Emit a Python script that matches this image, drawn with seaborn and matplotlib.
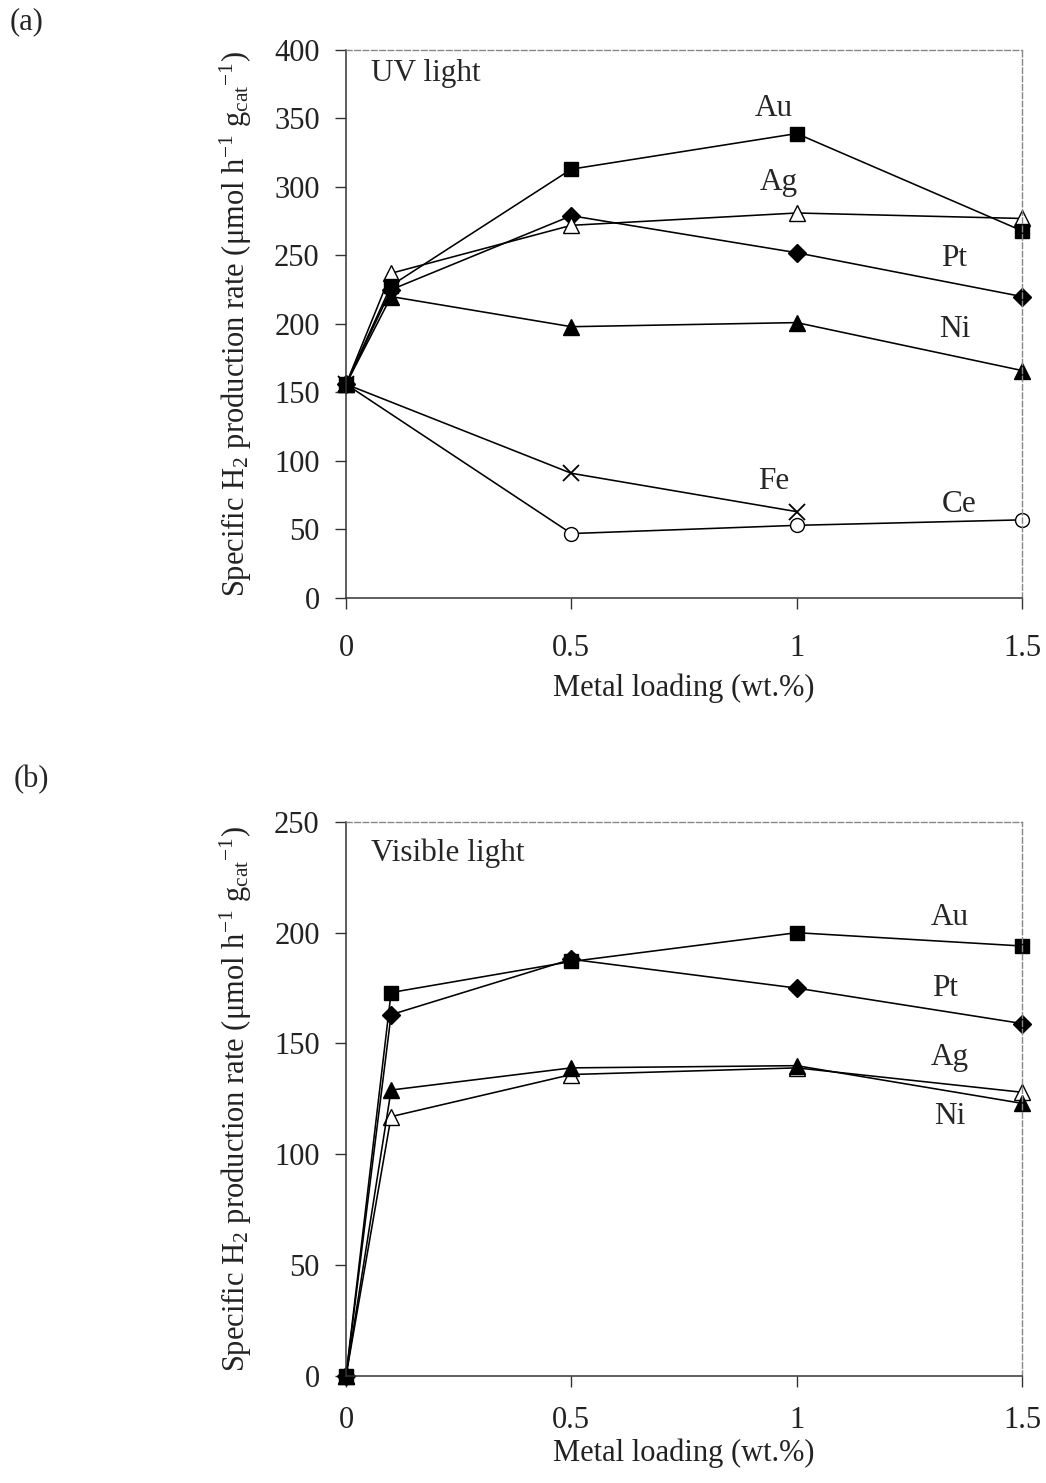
import matplotlib
matplotlib.use('Agg')
import matplotlib.pyplot as plt
import seaborn as sns
import pandas as pd

# ── Data ─────────────────────────────────────────────────────
loading = [0, 0.1, 0.5, 1, 1.5]

uv_au = [156, 228, 313, 339, 268]
uv_ag = [156, 237, 272, 281, 277]
uv_pt = [156, 225, 279, 252, 220]
uv_ni = [156, 220, 198, 201, 166]
fe_loading = [0, 0.5, 1]
uv_fe = [156, 91, 63]
ce_loading = [0, 0.5, 1, 1.5]
uv_ce = [156, 47, 53, 57]

vis_au = [0, 173, 187, 200, 194]
vis_pt = [0, 163, 188, 175, 159]
vis_ag = [0, 117, 136, 139, 128]
vis_ni = [0, 129, 139, 140, 123]

uv_ticks = [0, 50, 100, 150, 200, 250, 300, 350, 400]
vis_ticks = [0, 50, 100, 150, 200, 250]
x_ticks = [0, 0.5, 1, 1.5]
x_ticklabels = ['0', '0.5', '1', '1.5']

sns.set_theme(style='white')
plt.rcParams['font.family'] = ['Liberation Serif', 'DejaVu Serif']
plt.rcParams['mathtext.fontset'] = 'custom'
plt.rcParams['mathtext.rm'] = 'Liberation Serif'
plt.rcParams['mathtext.it'] = 'Liberation Serif:italic'

YLABEL = r'Specific H$_2$ production rate ($\mathrm{\mu}$mol h$^{\mathrm{-1}}$ g$_{\mathrm{cat}}$$^{\mathrm{-1}}$)'
FS = 22

fig = plt.figure(figsize=(10.46, 14.83), dpi=100)
ax1 = fig.add_axes([0.3308, 0.5968, 0.6463, 0.3695])
ax2 = fig.add_axes([0.3308, 0.0722, 0.6463, 0.3736])

marker_style = {
    'Au': dict(marker='s', mfc='black', ms=10),
    'Ag': dict(marker='^', mfc='white', ms=11),
    'Pt': dict(marker='D', mfc='black', ms=9),
    'Ni': dict(marker='^', mfc='black', ms=11),
    'Fe': dict(marker='x', mfc='black', ms=12, mew=1.3),
    'Ce': dict(marker='o', mfc='white', ms=10),
}


def draw(ax, xs, ys, name):
    df = pd.DataFrame({'x': xs, 'y': ys})
    st = marker_style[name]
    sns.lineplot(data=df, x='x', y='y', ax=ax, color='black', lw=1.15,
                 marker=st['marker'], markerfacecolor=st['mfc'],
                 markeredgecolor='black', markersize=st['ms'],
                 markeredgewidth=st.get('mew', 1.0), clip_on=False,
                 sort=False, estimator=None)


# ── (a) UV light ─────────────────────────────────────────────
draw(ax1, ce_loading, uv_ce, 'Ce')
draw(ax1, fe_loading, uv_fe, 'Fe')
draw(ax1, loading, uv_ni, 'Ni')
draw(ax1, loading, uv_pt, 'Pt')
draw(ax1, loading, uv_ag, 'Ag')
draw(ax1, loading, uv_au, 'Au')
ax1.set_ylim(0, 400)
ax1.set_yticks(uv_ticks)
ax1.text(0.055, 383, 'UV light', fontsize=FS + 0.5, va='center')
for lbl, x, y in [('Au', 0.95, 357), ('Ag', 0.96, 303), ('Pt', 1.35, 248),
                  ('Ni', 1.35, 196), ('Fe', 0.95, 85), ('Ce', 1.36, 68)]:
    ax1.text(x, y, lbl, fontsize=FS + 0.5, ha='center', va='center')

# ── (b) Visible light ────────────────────────────────────────
draw(ax2, loading, vis_ag, 'Ag')
draw(ax2, loading, vis_ni, 'Ni')
draw(ax2, loading, vis_pt, 'Pt')
draw(ax2, loading, vis_au, 'Au')
ax2.set_ylim(0, 250)
ax2.set_yticks(vis_ticks)
ax2.text(0.055, 236, 'Visible light', fontsize=FS + 0.5, va='center')
for lbl, x, y in [('Au', 1.34, 207), ('Pt', 1.33, 175),
                  ('Ag', 1.34, 143.5), ('Ni', 1.34, 117)]:
    ax2.text(x, y, lbl, fontsize=FS + 0.5, ha='center', va='center')

for ax in (ax1, ax2):
    ax.set_xlim(0, 1.5)
    ax.set_xticks(x_ticks)
    ax.set_xticklabels(x_ticklabels)
    ax.tick_params(axis='both', direction='out', length=8, width=1,
                   color='#333333', labelsize=FS, labelcolor='#222222')
    ax.tick_params(axis='y', pad=11, left=True)
    ax.set_xlabel('Metal loading (wt.%)', fontsize=FS, color='#222222')
    ax.set_ylabel(YLABEL, fontsize=FS, color='#222222')
    ax.yaxis.set_label_coords(-0.136, 0.5)
    for s in ('left', 'bottom'):
        ax.spines[s].set_color('#333333')
        ax.spines[s].set_linewidth(1.1)
    for s in ('top', 'right'):
        ax.spines[s].set_color('#888888')
        ax.spines[s].set_linewidth(1.0)
        ax.spines[s].set_linestyle((0, (4, 2)))
    ax.set_facecolor('white')

ax1.tick_params(axis='x', pad=18, bottom=True)
ax2.tick_params(axis='x', pad=14, bottom=True)
ax1.xaxis.set_label_coords(0.5, -0.137)
ax2.xaxis.set_label_coords(0.5, -0.113)

fig.text(10 / 1046, 1 - 22 / 1483, '(a)', fontsize=FS, va='center')
fig.text(14 / 1046, 1 - 780 / 1483, '(b)', fontsize=FS, va='center')

fig.savefig('out.png', dpi=100, facecolor='white')
